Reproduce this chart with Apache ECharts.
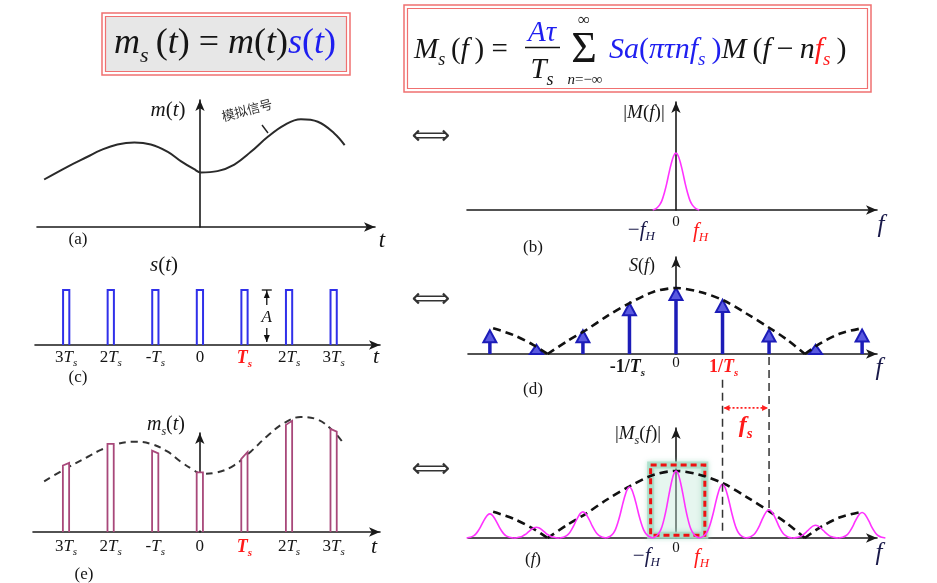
<!DOCTYPE html>
<html><head><meta charset="utf-8">
<script src="https://cdn.jsdelivr.net/npm/echarts@6/dist/echarts.min.js"></script>
<style>html,body{margin:0;padding:0;background:#fff}#c{width:937px;height:583px}</style>
</head><body><div id="c"></div>
<script>
// ---------------- DATA ----------------
// time axis, in units of Ts
const T_TICKS = [-3, -2, -1, 0, 1, 2, 3];
const T_TICK_LABELS = ['3T_s', '2T_s', '-T_s', '0', 'T_s', '2T_s', '3T_s'];
// analog signal m(t): [t/Ts, amplitude]
const M_T = [[-3.49,0.374],[-2.97,0.474],[-2.52,0.553],[-2.22,0.605],[-1.85,0.650],[-1.47,0.666],
  [-1.10,0.650],[-0.72,0.592],[-0.43,0.519],[-0.13,0.455],[0.02,0.429],[0.39,0.440],[0.77,0.492],
  [1.14,0.592],[1.52,0.710],[1.89,0.803],[2.26,0.848],[2.64,0.829],[3.01,0.737],[3.24,0.645]];
// pulse train s(t): amplitude A of each pulse
const PULSE_AMP = [1, 1, 1, 1, 1, 1, 1];
// sampled signal ms(t): [left top, right top] of each pulse
const SAMPLE_TOPS = [[0.49,0.51],[0.65,0.65],[0.60,0.58],[0.44,0.44],[0.54,0.59],[0.79,0.82],[0.76,0.74]];
// frequency axis, in units of fs
const F_HARMONICS = [-4, -3, -2, -1, 0, 1, 2, 3, 4];
const S_F_AMPS  = [0.36, 0.14, 0.36, 0.77, 1, 0.82, 0.37, 0.14, 0.37];
const MS_F_AMPS = [0.36, 0.16, 0.39, 0.76, 1, 0.80, 0.42, 0.19, 0.38];
const M_F_AMP = [[0, 1]];
// Sa() envelope lobes [f/fs, value]
const ENV_LEFT  = [[-3.93,0.39],[-3.5,0.29],[-3.07,0.14],[-2.76,0]];
const ENV_MAIN  = [[-2.76,0],[-2.35,0.19],[-1.94,0.36],[-1.49,0.57],[-1.0,0.77],[-0.49,0.94],[0,1],
  [0.52,0.94],[1.03,0.81],[1.52,0.61],[2.02,0.39],[2.38,0.22],[2.77,0]];
const ENV_RIGHT = [[2.77,0],[3.1,0.16],[3.53,0.31],[3.99,0.39]];
// shape of the baseband spectrum |M(f)| around its centre [offset/fs, relative]
const M_F_PROFILE = [[-0.5,0],[-0.42,0.03],[-0.35,0.09],[-0.3,0.17],[-0.25,0.3],[-0.2,0.46],[-0.15,0.65],
  [-0.1,0.82],[-0.05,0.95],[0,1],[0.05,0.95],[0.1,0.82],[0.15,0.65],[0.2,0.46],[0.25,0.3],[0.3,0.17],
  [0.35,0.09],[0.42,0.03],[0.5,0]];
const D_TICKS = [-1, 0, 1];
const D_TICK_LABELS = ['-1/T_s', '0', '1/T_s'];
const BAND_TICKS = [-0.4, 0, 0.4];
const BAND_TICK_LABELS = ['\u2212f_H', '0', 'f_H'];

// ---------------- STYLE HELPERS ----------------
const SERIF = '"Liberation Serif","Times New Roman",serif';
const COLORS = {'': '#151515', r: '#ff1a1a', B: '#1f1ff0', n: '#1a1a4a'};
function R(size) {
  const o = {};
  for (const ck in COLORS) for (const w of ['', 'b']) {
    const base = {fontFamily: SERIF, fontWeight: w ? 'bold' : 'normal', color: COLORS[ck], fill: COLORS[ck]};
    o[ck + w + 'i'] = Object.assign({}, base, {fontStyle: 'italic', fontSize: size, lineHeight: Math.round(size * 1.3), verticalAlign: 'middle'});
    o[ck + w + 'u'] = Object.assign({}, base, {fontStyle: 'normal', fontSize: size, lineHeight: Math.round(size * 1.3), verticalAlign: 'middle'});
    o[ck + w + 's'] = Object.assign({}, base, {fontStyle: 'italic', fontSize: Math.round(size * 0.62), lineHeight: Math.round(size * 0.62), verticalAlign: 'bottom'});
  }
  return o;
}
function mk(str, p) {
  p = p || '';
  const parts = str.split('_');
  let out = '', cur = null, buf = '';
  for (const ch of parts[0]) {
    const t = /[A-Za-z\u0370-\u03ff]/.test(ch) ? 'i' : 'u';
    if (t !== cur) { if (buf) out += '{' + p + cur + '|' + buf + '}'; cur = t; buf = ''; }
    buf += ch;
  }
  if (buf) out += '{' + p + cur + '|' + buf + '}';
  if (parts[1]) out += '{' + p + 's|' + parts[1] + '}';
  return out;
}
function tstyle(text, size, align) {
  return {text: text, rich: R(size), fontFamily: SERIF, fontSize: size, fill: '#151515',
    align: align || 'center', textAlign: align || 'center', verticalAlign: 'middle', textVerticalAlign: 'middle'};
}
function txt(x, y, text, size, align) {
  return {type: 'text', x: x, y: y, z: 10, silent: true, style: tstyle(text, size, align)};
}
function plain(x, y, text, font, size, color, rot) {
  return {type: 'text', x: x, y: y, z: 10, silent: true, rotation: rot || 0,
    style: {text: text, fontFamily: font, fontSize: size, fill: color,
      align: 'center', textAlign: 'center', verticalAlign: 'middle', textVerticalAlign: 'middle'}};
}

// ---------------- GRIDS ----------------
const GRIDS = [
  {left: 37, top: 100, width: 338, height: 127},  // a
  {left: 467, top: 102, width: 410, height: 108}, // b
  {left: 35, top: 290, width: 345, height: 55},   // c
  {left: 468, top: 257, width: 409, height: 97},  // d
  {left: 33, top: 433, width: 347, height: 99},   // e
  {left: 468, top: 428, width: 409, height: 110}  // f
];
const X_RANGES = [[-3.65,3.92],[-4.49,4.32],[-3.70,4.04],[-4.47,4.32],[-3.74,4.04],[-4.47,4.32]];
const Y_MAX = [1, 1.9, 1, 1.47, 0.73, 1.64];
const SHOW_Y = [true, true, false, true, true, true];
const AX_LINE = {color: '#1a1a1a', width: 1.6};

const grid = GRIDS.map(g => Object.assign({outerBoundsMode: 'none', containLabel: false}, g));
const xAxis = GRIDS.map((g, i) => ({type: 'value', gridIndex: i, min: X_RANGES[i][0], max: X_RANGES[i][1],
  axisLine: {show: true, onZero: true, symbol: ['none', 'arrow'], symbolSize: [7, 11], lineStyle: AX_LINE},
  axisTick: {show: false}, axisLabel: {show: false}, splitLine: {show: false}}));
const yAxis = GRIDS.map((g, i) => ({type: 'value', gridIndex: i, min: 0, max: Y_MAX[i],
  axisLine: {show: SHOW_Y[i], onZero: true, symbol: ['none', 'arrow'], symbolSize: [7, 11], lineStyle: AX_LINE},
  axisTick: {show: false}, axisLabel: {show: false}, splitLine: {show: false}}));

// ---------------- RENDERERS ----------------
const PW = 0.07; // half pulse width (Ts)
function bumpRender(p, api) {
  const c = api.value(0), h = api.value(1);
  const pts = M_F_PROFILE.map(q => api.coord([c + q[0], h * q[1]]));
  return {type: 'polyline', shape: {points: pts, smooth: 0.25}, style: {stroke: '#ff33ff', lineWidth: 1.6, fill: null}};
}
function pulseRender(color, width) {
  return function (p, api) {
    const t = api.value(0), a = api.value(1), b = api.value(2);
    const l0 = api.coord([t - PW, 0]), l1 = api.coord([t - PW, a]), r1 = api.coord([t + PW, b]), r0 = api.coord([t + PW, 0]);
    return {type: 'group', children: [
      {type: 'polygon', shape: {points: [[l0[0], l0[1] - 1.5], l1, r1, [r0[0], r0[1] - 1.5]]}, style: {fill: '#fff'}},
      {type: 'polyline', shape: {points: [l0, l1, r1, r0]}, style: {stroke: color, lineWidth: width, fill: null}}
    ]};
  };
}
function arrowRender(p, api) {
  const b = api.coord([api.value(0), 0]), tip = api.coord([api.value(0), api.value(1)]);
  const hh = Math.min(12, b[1] - tip[1]), hw = 6.5;
  const col = '#1c1cb8';
  const ch = [{type: 'polygon', shape: {points: [[tip[0], tip[1]], [tip[0] - hw, tip[1] + hh], [tip[0] + hw, tip[1] + hh]]},
    style: {fill: '#5a5ae0', stroke: col, lineWidth: 2}}];
  if (b[1] - tip[1] > hh + 1) ch.unshift({type: 'line', shape: {x1: b[0], y1: b[1], x2: tip[0], y2: tip[1] + hh}, style: {stroke: col, lineWidth: 3.5}});
  return {type: 'group', children: ch};
}
function textSeries(gi, xs, labels, opts) {
  return {type: 'custom', xAxisIndex: gi, yAxisIndex: gi, z: 6, silent: true,
    data: xs.map(x => [x, 0]),
    renderItem: (p, api) => {
      const o = opts[p.dataIndex];
      const c = api.coord([api.value(0), 0]);
      return {type: 'text', x: c[0] + (o.dx || 0), y: c[1] + o.dy, style: tstyle(mk(labels[p.dataIndex], o.p), o.size)};
    }};
}
function envSeries(gi, data) {
  return {type: 'line', xAxisIndex: gi, yAxisIndex: gi, data: data, smooth: 0.3, symbol: 'none', clip: false,
    lineStyle: {color: '#111', width: 2.6, type: [8, 5]}, z: 3};
}

// ---------------- SERIES ----------------
const series = [
  // (a) analog signal
  {type: 'line', xAxisIndex: 0, yAxisIndex: 0, data: M_T, smooth: 0.4, symbol: 'none',
    lineStyle: {color: '#2a2a2a', width: 2}},
  // (b) baseband spectrum
  {type: 'custom', xAxisIndex: 1, yAxisIndex: 1, data: M_F_AMP, renderItem: bumpRender},
  textSeries(1, BAND_TICKS, BAND_TICK_LABELS, [{dy: 20, dx: -16, size: 21, p: 'n'}, {dy: 12, size: 15}, {dy: 21, dx: 6, size: 21, p: 'r'}]),
  // (c) pulse train
  {type: 'custom', xAxisIndex: 2, yAxisIndex: 2, data: T_TICKS.map((t, i) => [t, PULSE_AMP[i], PULSE_AMP[i]]),
    encode: {x: 0, y: 1}, renderItem: pulseRender('#3030ea', 2)},
  {type: 'custom', xAxisIndex: 2, yAxisIndex: 2, data: [[1.5, 1]], z: 4,
    renderItem: (p, api) => {
      const top = api.coord([api.value(0), api.value(1)]), bot = api.coord([api.value(0), 0]);
      const x = top[0], s = {stroke: '#111', lineWidth: 1.3};
      return {type: 'group', children: [
        {type: 'line', shape: {x1: x - 5, y1: top[1], x2: x + 5, y2: top[1]}, style: s},
        {type: 'line', shape: {x1: x, y1: top[1], x2: x, y2: top[1] + 15}, style: s},
        {type: 'polygon', shape: {points: [[x, top[1] + 1], [x - 3, top[1] + 8], [x + 3, top[1] + 8]]}, style: {fill: '#111'}},
        {type: 'line', shape: {x1: x, y1: bot[1] - 17, x2: x, y2: bot[1] - 3}, style: s},
        {type: 'polygon', shape: {points: [[x, bot[1] - 3], [x - 3, bot[1] - 10], [x + 3, bot[1] - 10]]}, style: {fill: '#111'}},
        {type: 'text', x: x, y: (top[1] + bot[1]) / 2, style: tstyle('{i|A}', 17)}
      ]};
    }},
  textSeries(2, T_TICKS, T_TICK_LABELS, T_TICKS.map((t, i) => i === 4 ? {dy: 13, size: 18, p: 'rb'} : {dy: 13, size: 17, p: ''})),
  // (d) spectrum of pulse train
  envSeries(3, ENV_LEFT), envSeries(3, ENV_MAIN), envSeries(3, ENV_RIGHT),
  {type: 'custom', xAxisIndex: 3, yAxisIndex: 3, data: F_HARMONICS.map((f, i) => [f, S_F_AMPS[i]]), renderItem: arrowRender, z: 2},
  textSeries(3, D_TICKS, D_TICK_LABELS, [{dy: 13, dx: -2, size: 18, p: 'b'}, {dy: 9, size: 15}, {dy: 13, dx: 1, size: 18, p: 'rb'}]),
  // (e) sampled signal
  {type: 'line', xAxisIndex: 4, yAxisIndex: 4, data: M_T, smooth: 0.4, symbol: 'none', clip: false,
    lineStyle: {color: '#333', width: 2, type: [7, 5]}, z: 2},
  {type: 'custom', xAxisIndex: 4, yAxisIndex: 4, data: T_TICKS.map((t, i) => [t, SAMPLE_TOPS[i][0], SAMPLE_TOPS[i][1]]),
    encode: {x: 0, y: 1}, renderItem: pulseRender('#a8487a', 1.8), z: 3},
  textSeries(4, T_TICKS, T_TICK_LABELS, T_TICKS.map((t, i) => i === 4 ? {dy: 15, size: 18, p: 'rb'} : {dy: 15, size: 17, p: ''})),
  // (f) spectrum of sampled signal
  {type: 'custom', xAxisIndex: 5, yAxisIndex: 5, data: [[-0.545, 0.04, 0.62, 1.09]], z: 1,
    renderItem: (p, api) => {
      const a = api.coord([api.value(0), api.value(3)]), b = api.coord([api.value(2), api.value(1)]);
      const sh = {x: a[0], y: a[1], width: b[0] - a[0], height: b[1] - a[1]};
      return {type: 'group', children: [
        {type: 'rect', shape: sh, style: {fill: 'rgba(215,242,232,0.25)', stroke: 'rgba(165,220,198,0.8)', lineWidth: 7,
          shadowBlur: 5, shadowColor: 'rgba(165,220,198,0.9)'}},
        {type: 'rect', shape: sh, z2: 10, style: {fill: null, stroke: '#ee1111', lineWidth: 3, lineDash: [6, 4]}}
      ]};
    }},
  envSeries(5, ENV_LEFT), envSeries(5, ENV_MAIN), envSeries(5, ENV_RIGHT),
  {type: 'custom', xAxisIndex: 5, yAxisIndex: 5, data: F_HARMONICS.map((f, i) => [f, MS_F_AMPS[i]]), renderItem: bumpRender, z: 4},
  {type: 'custom', xAxisIndex: 5, yAxisIndex: 5, data: [[1, 2]], z: 4,
    renderItem: (p, api) => {
      const f1 = api.value(0), f2 = api.value(1);
      const a1 = api.coord([f1, 2.36]), a2 = api.coord([f1, 0.045]);
      const b1 = api.coord([f2, 2.7]), b2 = api.coord([f2, 0.42]);
      const ar = api.coord([f1, 1.94]), br = api.coord([f2, 1.94]);
      const ds = {stroke: '#333', lineWidth: 1.5, lineDash: [8, 5]};
      const rs = {stroke: '#ff2020', lineWidth: 1.6, lineDash: [2, 2]};
      return {type: 'group', children: [
        {type: 'line', shape: {x1: a1[0], y1: a1[1], x2: a2[0], y2: a2[1]}, style: ds},
        {type: 'line', shape: {x1: b1[0], y1: b1[1], x2: b2[0], y2: b2[1]}, style: ds},
        {type: 'line', shape: {x1: ar[0] + 2, y1: ar[1], x2: br[0] - 2, y2: br[1]}, style: rs},
        {type: 'polygon', shape: {points: [[ar[0] + 1, ar[1]], [ar[0] + 7, ar[1] - 3], [ar[0] + 7, ar[1] + 3]]}, style: {fill: '#ff2020'}},
        {type: 'polygon', shape: {points: [[br[0] - 1, br[1]], [br[0] - 7, br[1] - 3], [br[0] - 7, br[1] + 3]]}, style: {fill: '#ff2020'}},
        {type: 'text', x: (ar[0] + br[0]) / 2, y: ar[1] + 18, style: tstyle('{rbi|f}{rbs|s}', 24)}
      ]};
    }},
  textSeries(5, BAND_TICKS, BAND_TICK_LABELS, [{dy: 18, dx: -11, size: 21, p: 'n'}, {dy: 10, size: 15}, {dy: 19, dx: 7, size: 21, p: 'r'}])
];

// ---------------- GRAPHIC (formulas, names) ----------------
const graphic = [
  {type: 'rect', shape: {x: 102, y: 13, width: 248, height: 62}, style: {fill: '#fff', stroke: '#f07070', lineWidth: 1.5}},
  {type: 'rect', shape: {x: 105.5, y: 16.5, width: 241, height: 55}, style: {fill: '#e7e7e7', stroke: '#f07070', lineWidth: 1.2}},
  txt(225, 44, '{i|m}{s|s}{u|\u2009(}{i|t}{u|) = }{i|m}{u|(}{i|t}{u|)}{Bi|s}{Bu|(}{Bi|t}{Bu|)}', 36),
  {type: 'rect', shape: {x: 404, y: 5, width: 467, height: 87}, style: {fill: '#fff', stroke: '#f07070', lineWidth: 1.5}},
  {type: 'rect', shape: {x: 407.5, y: 8.5, width: 460, height: 80}, style: {fill: '#fff', stroke: '#f07070', lineWidth: 1.2}},
  txt(414, 50, '{i|M}{s|s}{u|\u2009(}{i|f}{u|\u2009) = }', 29, 'left'),
  txt(542, 33, '{Bi|A\u03c4}', 29),
  {type: 'line', shape: {x1: 525, y1: 47.5, x2: 560, y2: 47.5}, style: {stroke: '#111', lineWidth: 1.5}},
  txt(542, 70, '{i|T}{s|s}', 29),
  txt(584, 50, '{u|\u03a3}', 44),
  txt(584, 21, '{u|\u221e}', 17),
  txt(585, 80, '{i|n}{u|=\u2212\u221e}', 15),
  txt(609, 50, '{Bi|Sa}{Bu|(}{Bi|\u03c0\u03c4nf}{Bs|s}{Bu|\u2009)}{i|M}{u|\u2009(}{i|f}{u|\u2009\u2212\u2009}{i|n}{ri|f}{rs|s}{u|\u2009)}', 30, 'left'),
  // equivalence arrows
  plain(431, 137, '\u27fa', 'DejaVu Sans', 27, '#333'),
  plain(431, 300, '\u27fa', 'DejaVu Sans', 27, '#333'),
  plain(431, 470, '\u27fa', 'DejaVu Sans', 27, '#333'),
  // axis names
  txt(168, 110, '{i|m}{u|(}{i|t}{u|)}', 21),
  txt(644, 113, '{u||}{i|M}{u|(}{i|f}{u|)|}', 19),
  txt(164, 265, '{i|s}{u|(}{i|t}{u|)}', 21),
  txt(642, 266, '{i|S}{u|(}{i|f}{u|)}', 18),
  txt(166, 425, '{i|m}{s|s}{u|(}{i|t}{u|)}', 20),
  txt(638, 434, '{u||}{i|M}{s|s}{u|(}{i|f}{u|)|}', 19),
  // axis end letters
  txt(382, 241, '{i|t}', 23), txt(881, 225, '{ni|f}', 25),
  txt(376, 357, '{i|t}', 22), txt(879, 368, '{ni|f}', 25),
  txt(374, 547, '{i|t}', 22), txt(879, 553, '{ni|f}', 25),
  // panel labels
  txt(78, 240, '{u|(a)}', 17), txt(533, 248, '{u|(b)}', 17), txt(78, 378, '{u|(c)}', 17),
  txt(533, 390, '{u|(d)}', 17), txt(84, 575, '{u|(e)}', 17), txt(533, 560, '{u|(}{i|f}{u|)}', 17),
  // annotation of analog signal
  plain(247, 110, '模拟信号', '"Noto Sans CJK SC"', 13, '#333', 0.26),
  {type: 'line', shape: {x1: 262, y1: 125, x2: 268, y2: 133}, style: {stroke: '#222', lineWidth: 1.4}}
];

const chart = echarts.init(document.getElementById('c'), null, {renderer: 'canvas'});
chart.setOption({animation: false, backgroundColor: '#fff', grid, xAxis, yAxis, series, graphic});
</script>
</body></html>
